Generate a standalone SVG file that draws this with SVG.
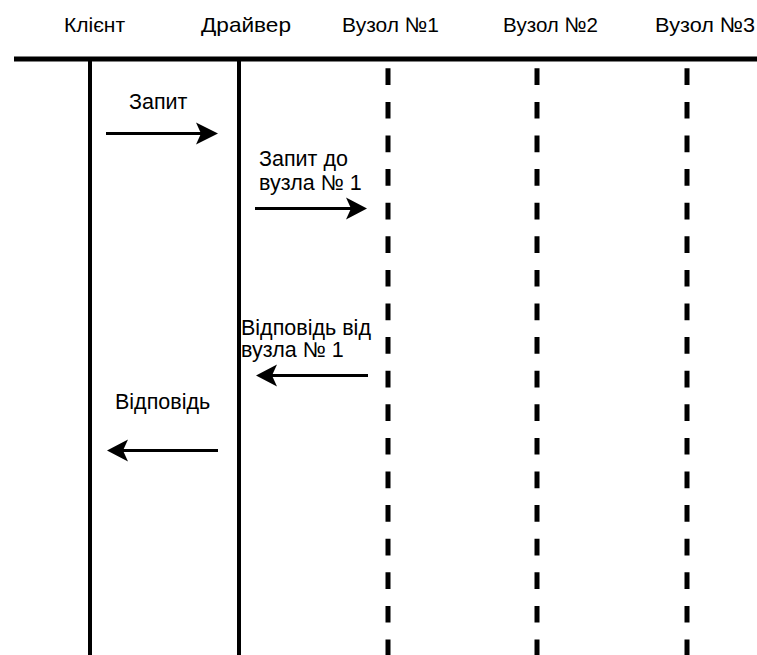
<svg xmlns="http://www.w3.org/2000/svg" width="757" height="655" viewBox="0 0 757 655">
  <style>
    text { font-family: "Liberation Sans", Arial, sans-serif; fill: #000; }
    .hdr { font-size: 21px; }
    .lbl { font-size: 21.5px; }
    .life { stroke: #000; stroke-width: 4; fill: none; }
    .node-life { stroke: #000; stroke-width: 5; stroke-dasharray: 16.7 16.9; fill: none; }
    .msg { stroke: #000; stroke-width: 3; fill: none; }
    .head { fill: #000; }
  </style>
  <rect width="757" height="655" fill="#fff"/>

  <!-- header bar -->
  <line x1="14" y1="59" x2="757" y2="59" stroke="#000" stroke-width="5"/>

  <g id="client">
    <text class="hdr" x="64" y="32">Клієнт</text>
    <line class="life" x1="90" y1="59" x2="90" y2="655"/>
  </g>
  <g id="driver">
    <text class="hdr" x="201" y="32" textLength="90" lengthAdjust="spacingAndGlyphs">Драйвер</text>
    <line class="life" x1="239" y1="59" x2="239" y2="655"/>
  </g>
  <g id="node1">
    <text class="hdr" x="342" y="32" textLength="97" lengthAdjust="spacingAndGlyphs">Вузол №1</text>
    <line class="node-life" x1="388" y1="68.3" x2="388" y2="655"/>
  </g>
  <g id="node2">
    <text class="hdr" x="503" y="32" textLength="95" lengthAdjust="spacingAndGlyphs">Вузол №2</text>
    <line class="node-life" x1="537" y1="68.3" x2="537" y2="655"/>
  </g>
  <g id="node3">
    <text class="hdr" x="655" y="32" textLength="100" lengthAdjust="spacingAndGlyphs">Вузол №3</text>
    <line class="node-life" x1="687" y1="68.3" x2="687" y2="655"/>
  </g>

  <g id="connectors">
    <!-- request: client -> driver -->
    <line class="msg" x1="106" y1="133.5" x2="205" y2="133.5"/>
    <path class="head" d="M218,133.5 L196,122.5 L201,133.5 L196,144.5 Z"/>
    <text class="lbl" x="129" y="109">Запит</text>

    <!-- request: driver -> node 1 -->
    <line class="msg" x1="255" y1="208.5" x2="355" y2="208.5"/>
    <path class="head" d="M367,208.5 L346,197.5 L351,208.5 L346,219.5 Z"/>
    <text class="lbl" x="259" y="166">Запит до</text>
    <text class="lbl" x="259" y="190">вузла № 1</text>

    <!-- response: node 1 -> driver -->
    <line class="msg" x1="368" y1="375.5" x2="268" y2="375.5"/>
    <path class="head" d="M256,375.5 L277,364.5 L272,375.5 L277,386.5 Z"/>
    <text class="lbl" x="241" y="335">Відповідь від</text>
    <text class="lbl" x="241" y="357">вузла № 1</text>

    <!-- response: driver -> client -->
    <line class="msg" x1="218" y1="450.5" x2="119" y2="450.5"/>
    <path class="head" d="M107,450.5 L128,439.5 L123,450.5 L128,461.5 Z"/>
    <text class="lbl" x="115" y="409">Відповідь</text>
  </g>
</svg>
